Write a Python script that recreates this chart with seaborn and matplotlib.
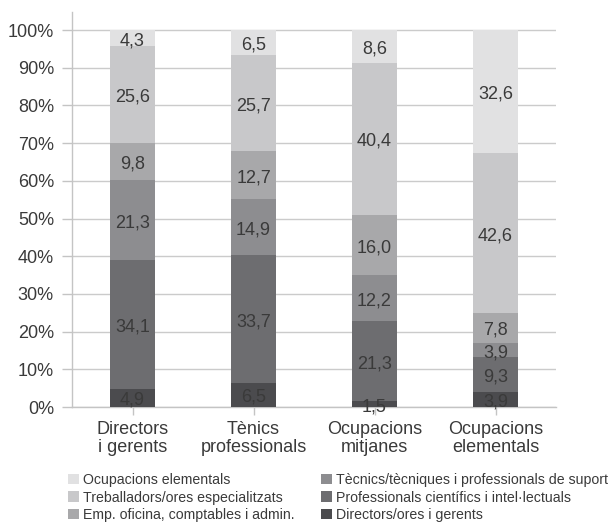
import matplotlib
matplotlib.use("Agg")
import matplotlib.pyplot as plt
import seaborn as sns
import numpy as np
from matplotlib.patches import Patch

# ---- data ----
categories = ["Directors\ni gerents", "Tènics\nprofessionals", "Ocupacions\nmitjanes", "Ocupacions\nelementals"]
segments = [
    "Directors/ores i gerents",
    "Professionals científics i intel·lectuals",
    "Tècnics/tècniques i professionals de suport",
    "Emp. oficina, comptables i admin.",
    "Treballadors/ores especialitzats",
    "Ocupacions elementals",
]
directors = [4.9, 6.5, 1.5, 3.9]
professionals = [34.1, 33.7, 21.3, 9.3]
tecnics = [21.3, 14.9, 12.2, 3.9]
oficina = [9.8, 12.7, 16.0, 7.8]
treballadors = [25.6, 25.7, 40.4, 42.6]
elementals = [4.3, 6.5, 8.6, 32.6]
series = [directors, professionals, tecnics, oficina, treballadors, elementals]
yticks = [0, 10, 20, 30, 40, 50, 60, 70, 80, 90, 100]

colors = ["#4b4b4e", "#6d6d70", "#8d8d90", "#a8a8aa", "#c8c8ca", "#e1e1e2"]
text_color = "#3a3a3a"

sns.set_style("white")
plt.rcParams["font.family"] = ["Liberation Sans", "DejaVu Sans"]

fig = plt.figure(figsize=(6.11, 5.23), dpi=100)
ax = fig.add_axes([72/611, 1-407/523, 484/611, 395/523])

bottom = np.zeros(len(categories))
for seg, vals, col in zip(segments, series, colors):
    sns.barplot(x=categories, y=vals, order=categories, bottom=bottom, color=col,
                width=0.38, errorbar=None, ax=ax, saturation=1, linewidth=0, zorder=3)
    for i, v in enumerate(vals):
        ax.text(i, bottom[i] + v/2 - 0.7, f"{v:.1f}".replace(".", ","),
                ha="center", va="center", fontsize=13, color=text_color, zorder=4)
    bottom = bottom + np.array(vals)

ax.set_xlim(-0.5, 3.5)
ax.set_ylim(0, 104.8)
ax.set_yticks(yticks)
ax.set_yticklabels([f"{t}%" for t in yticks])
ax.yaxis.grid(True, color="#cbcbcb", linewidth=1.0, zorder=0)
ax.set_axisbelow(True)
ax.set_xlabel("")
ax.set_ylabel("")
for s in ["top", "right"]:
    ax.spines[s].set_visible(False)
for s in ["left", "bottom"]:
    ax.spines[s].set_color("#c4c4c4")
    ax.spines[s].set_linewidth(1.0)
ax.tick_params(axis="y", length=7.5, width=1.0, color="#c4c4c4", pad=5.5,
               labelsize=13, labelcolor=text_color, left=True)
ax.tick_params(axis="x", length=6, width=1.0, color="#c4c4c4", pad=4,
               labelsize=13, labelcolor=text_color, bottom=True)
for lab in ax.get_xticklabels():
    lab.set_linespacing(1.1)

handles = [Patch(facecolor=colors[k], edgecolor="none") for k in [5, 4, 3, 2, 1, 0]]
labels = [segments[k] for k in [5, 4, 3, 2, 1, 0]]
fig.legend(handles, labels, ncol=2, loc="upper left", bbox_to_anchor=(68/611, 1-473/523),
           frameon=False, fontsize=10.2, handlelength=0.75, handleheight=0.75,
           handletextpad=0.3, columnspacing=1.9, labelspacing=0.25,
           borderaxespad=0, borderpad=0, labelcolor=text_color)

fig.savefig("out.png", dpi=100)
